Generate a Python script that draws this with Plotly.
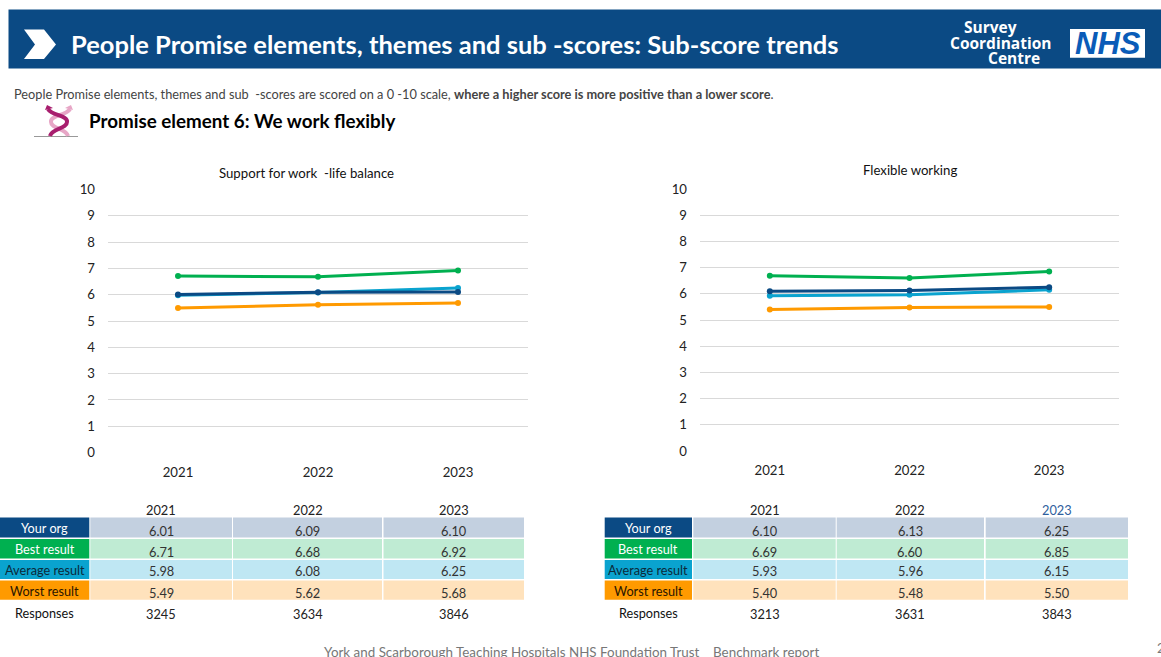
import plotly.graph_objects as go

W, H = 1161, 657
years = ["2021", "2022", "2023"]
series_names = ["Worst result", "Average result", "Best result", "Your org"]
table_order = ["Your org", "Best result", "Average result", "Worst result"]

left_title = "Support for work  -life balance"
left_your_org = [6.01, 6.09, 6.10]
left_best = [6.71, 6.68, 6.92]
left_average = [5.98, 6.08, 6.25]
left_worst = [5.49, 5.62, 5.68]
left_responses = [3245, 3634, 3846]

right_title = "Flexible working"
right_your_org = [6.10, 6.13, 6.25]
right_best = [6.69, 6.60, 6.85]
right_average = [5.93, 5.96, 6.15]
right_worst = [5.40, 5.48, 5.50]
right_responses = [3213, 3631, 3843]

NAVY, GREEN, TEAL, ORANGE = "#0b4a84", "#00b050", "#0aa3cf", "#ff9a00"
colors = {"Your org": NAVY, "Best result": GREEN, "Average result": TEAL, "Worst result": ORANGE}
tints = {"Your org": "#c3d0e0", "Best result": "#bfebd3", "Average result": "#bfe7f3", "Worst result": "#ffe2bc"}
label_colors = {"Your org": "#ffffff", "Best result": "#ffffff", "Average result": "#0b2a3a", "Worst result": "#2a1500"}
FONT = "Lato"


def px(x):
    return x / W


def py(y):
    return 1 - y / H


fig = go.Figure()
shapes, annotations = [], []


def text(x, y, s, size=12, color="#222222", anchor="center", family=FONT):
    annotations.append(dict(x=px(x), y=py(y), xref="paper", yref="paper", text=s, showarrow=False, borderpad=0,
                            borderwidth=0, xanchor=anchor, yanchor="middle",
                            font=dict(family=family, size=size, color=color)))


def rect(x0, y0, x1, y1, color, layer="below"):
    shapes.append(dict(type="rect", xref="paper", yref="paper", x0=px(x0), x1=px(x1), y0=py(y0), y1=py(y1),
                       fillcolor=color, line=dict(width=0), layer=layer))


def poly(points, color, line_w=0, line_color=None):
    path = "M " + " L ".join(f"{px(x):.5f},{py(y):.5f}" for x, y in points)
    if line_w == 0:
        path += " Z"
    shapes.append(dict(type="path", xref="paper", yref="paper", path=path,
                       fillcolor=color if line_w == 0 else "rgba(0,0,0,0)",
                       line=dict(width=line_w, color=line_color or color), layer="above"))


def ribbon(start, segs, color, width):
    path = f"M {px(start[0]):.5f},{py(start[1]):.5f}"
    for c1, c2, e in segs:
        path += " C " + " ".join(f"{px(p[0]):.5f},{py(p[1]):.5f}" for p in (c1, c2, e))
    shapes.append(dict(type="path", xref="paper", yref="paper", path=path, fillcolor="rgba(0,0,0,0)",
                       line=dict(width=width, color=color), layer="above"))


def chart(idx, data, dom_x, dom_y):
    xa, ya = ("x", "y") if idx == 1 else ("x2", "y2")
    for name in series_names:
        fig.add_trace(go.Scatter(x=years, y=data[name], name=name, mode="lines+markers", xaxis=xa, yaxis=ya,
                                 line=dict(color=colors[name], width=3), marker=dict(color=colors[name], size=6),
                                 showlegend=False))
    ax = dict(domain=[px(dom_x[0]), px(dom_x[1])], type="category", categoryorder="array", categoryarray=years,
              range=[-0.5, 2.5], showgrid=False, zeroline=False, ticks="", showline=False, automargin=False,
              ticklabelstandoff=10, tickfont=dict(family=FONT, size=13.2, color="#222222"),
              anchor="y" if idx == 1 else "y2")
    ay = dict(domain=[py(dom_y[0]), py(dom_y[1])], range=[0, 10], dtick=1, showgrid=True, gridcolor="#d9d9d9",
              gridwidth=1, zeroline=False, showline=False, ticks="", automargin=False, ticklabelstandoff=12,
              tickfont=dict(family=FONT, size=13.2, color="#222222"), anchor="x" if idx == 1 else "x2")
    return ax, ay


left = {"Your org": left_your_org, "Best result": left_best, "Average result": left_average, "Worst result": left_worst}
right = {"Your org": right_your_org, "Best result": right_best, "Average result": right_average, "Worst result": right_worst}
ax1, ay1 = chart(1, left, (108, 528), (452.5, 189.5))
ax2, ay2 = chart(2, right, (700, 1119), (451, 189))

text(306, 173, left_title, 13.2, "#111111")
text(910, 170, right_title, 13.2, "#111111")


def table(data, responses, label_x, col_edges, year_color):
    rows = [(517.5, 537.5), (539, 558.5), (560, 579), (580.5, 599.7)]
    label_y = [528, 548.5, 570, 590.7]
    value_y = [530.5, 551.7, 571.2, 592.5]
    for j, yr in enumerate(years):
        cx = (col_edges[j][0] + col_edges[j][1]) / 2
        text(cx, 509.7, yr, 12.8, year_color[j])
    for i, name in enumerate(table_order):
        y0, y1 = rows[i]
        rect(label_x[0], y0, label_x[1], y1, colors[name])
        text(sum(label_x) / 2, label_y[i], name, 12.7, label_colors[name])
        for j, v in enumerate(data[name]):
            rect(col_edges[j][0], y0, col_edges[j][1], y1, tints[name])
            text(sum(col_edges[j]) / 2, value_y[i], f"{v:.2f}", 12.8, "#333333")
    text(sum(label_x) / 2, 612.5, "Responses", 12.7, "#111111")
    for j, v in enumerate(responses):
        text(sum(col_edges[j]) / 2, 613.8, str(v), 12.8, "#222222")


table(left, left_responses, (0, 89.3), [(90.3, 232), (233, 382), (383.5, 524)], ["#222222"] * 3)
table(right, right_responses, (604.7, 692), [(693.3, 835.7), (836.7, 984), (985.7, 1128)], ["#222222", "#222222", "#2f5f9e"])

# header band
rect(8.5, 9.5, 1161, 68.5, "#0b4a84")
poly([(24, 29.5), (44, 29.5), (56, 44.5), (44, 59), (24, 59), (35, 44.5)], "#ffffff")
text(71, 44, "<b>People Promise elements, themes and sub -scores: Sub-score trends</b>", 25.5, "#ffffff", "left")
text(990, 27, "<b>Survey</b>", 15.5, "#ffffff", family="Open Sans")
text(1000, 42.5, "<b>Coordination</b>", 15.5, "#ffffff", family="Open Sans")
text(1014, 58, "<b>Centre</b>", 15.5, "#ffffff", family="Open Sans")
rect(1070, 29, 1145, 57.7, "#ffffff", layer="above")
text(1107.5, 43.5, "<b><i>NHS</i></b>", 31, "#0a5cb8", family="Liberation Sans")

# subtitle
text(14, 94, "People Promise elements, themes and sub  -scores are scored on a 0 -10 scale, "
     "<b>where a higher score is more positive than a lower score</b>.", 12.75, "#444444", "left")
text(88.5, 120, "<b>Promise element 6: We work flexibly</b>", 18.8, "#000000", "left")

# promise icon
poly([(34, 136.5), (78, 136.5)], "", 1.2, "#999999")
ribbon((70, 109), [((66, 116), (50, 115), (51, 122)), ((51, 129), (66, 128), (68, 136))], "#e7a6c6", 4)
ribbon((48, 109), [((52, 116), (68, 115), (67, 122)), ((67, 129), (52, 128), (50, 136))], "#a81e6e", 4)
poly([(45, 110), (47, 105), (53, 108)], "#a81e6e")
poly([(73, 110), (71, 105), (65, 108)], "#e7a6c6")

# footer
text(571.5, 652, "York and Scarborough Teaching Hospitals NHS Foundation Trust    Benchmark report", 13.4, "#777777")
text(1157, 648, "2", 13, "#777777", "left")

fig.update_layout(width=W, height=H, margin=dict(l=0, r=0, t=0, b=0), paper_bgcolor="#ffffff", plot_bgcolor="#ffffff",
                  xaxis=ax1, yaxis=ay1, xaxis2=ax2, yaxis2=ay2, shapes=shapes, annotations=annotations,
                  font=dict(family=FONT), showlegend=False)
fig.write_html("out.html", config={"displayModeBar": False},
               post_script="document.body.style.margin='0';document.body.style.overflow='hidden';")
